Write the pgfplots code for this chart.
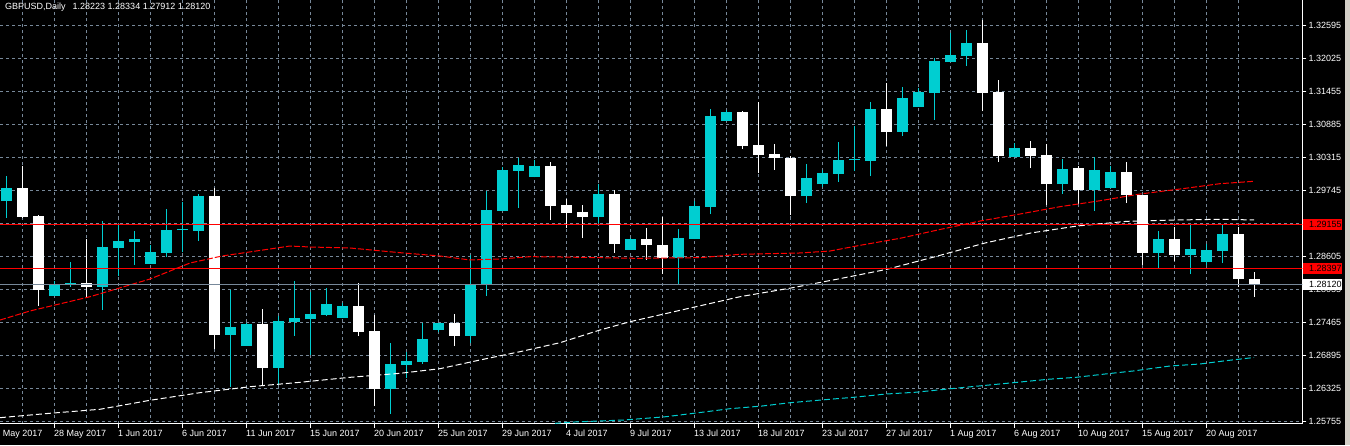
\documentclass[border=0pt]{standalone}
\usepackage{fontspec}
\setmainfont{Liberation Sans}
\usepackage{pgfplots}
\usepackage{pgfplotstable}
\pgfplotsset{compat=1.18}
\definecolor{mtcyan}{RGB}{0,206,209}
\definecolor{mtgrid}{RGB}{119,136,153}
\definecolor{mtstrip}{RGB}{212,208,200}
\newcommand{\mtfont}{\fontsize{9}{10}\selectfont}

% daily candles, bullish (cyan) and bearish (white)
\pgfplotstableread{
i o h l c
0 1.29565 1.29991 1.29272 1.29779
3 1.27922 1.28186 1.27922 1.28124
4 1.28124 1.28508 1.28083 1.28146
6 1.28083 1.29215 1.27681 1.28767
7 1.28750 1.29152 1.28267 1.28871
8 1.28853 1.29043 1.28457 1.28905
9 1.28474 1.28802 1.28474 1.28681
10 1.28664 1.29417 1.28600 1.29060
11 1.29055 1.29538 1.28676 1.29072
12 1.29043 1.29681 1.28871 1.29646
14 1.27250 1.28026 1.26358 1.27388
15 1.27060 1.27462 1.27060 1.27439
17 1.26681 1.27577 1.26388 1.27491
18 1.27469 1.28181 1.27238 1.27543
19 1.27526 1.27986 1.26900 1.27612
20 1.27595 1.28060 1.27583 1.27784
21 1.27548 1.27796 1.27548 1.27750
24 1.26324 1.27112 1.25893 1.26750
25 1.26733 1.26951 1.26503 1.26801
26 1.26784 1.27457 1.26755 1.27181
27 1.27336 1.27457 1.27307 1.27457
29 1.27233 1.28624 1.27117 1.28129
30 1.28129 1.29733 1.27922 1.29405
31 1.29388 1.30152 1.29388 1.30095
32 1.30078 1.30297 1.29440 1.30181
33 1.29974 1.30267 1.29974 1.30164
37 1.29284 1.29853 1.29181 1.29681
39 1.28715 1.28922 1.28715 1.28905
42 1.28577 1.29077 1.28129 1.28922
43 1.28905 1.29560 1.28905 1.29474
44 1.29457 1.31147 1.29336 1.31026
45 1.30940 1.31129 1.30940 1.31095
50 1.29646 1.30198 1.29526 1.29957
51 1.29853 1.30095 1.29802 1.30043
52 1.30026 1.30578 1.29888 1.30267
53 1.30262 1.30853 1.30078 1.30279
54 1.30250 1.31267 1.29991 1.31147
56 1.30750 1.31526 1.30681 1.31336
57 1.31181 1.31509 1.31181 1.31440
58 1.31422 1.32026 1.30957 1.31974
59 1.31957 1.32457 1.31957 1.32078
60 1.32061 1.32509 1.31888 1.32285
63 1.30319 1.30560 1.30319 1.30474
66 1.29853 1.30284 1.29681 1.30112
68 1.29750 1.30319 1.29388 1.30095
69 1.29784 1.30164 1.29784 1.30060
72 1.28664 1.29043 1.28405 1.28905
74 1.28629 1.29146 1.28301 1.28733
75 1.28508 1.28819 1.28457 1.28715
76 1.28698 1.29146 1.28491 1.28991
}\bull

\pgfplotstableread{
i o h l c
1 1.29779 1.30164 1.29272 1.29290
2 1.29302 1.29319 1.27750 1.28026
5 1.28146 1.28900 1.27900 1.28083
13 1.29646 1.29779 1.27008 1.27250
16 1.27439 1.27698 1.26388 1.26681
22 1.27750 1.28146 1.27238 1.27307
23 1.27319 1.27595 1.26025 1.26324
28 1.27457 1.27612 1.27060 1.27233
34 1.30164 1.30233 1.29233 1.29474
35 1.29491 1.29595 1.29095 1.29353
36 1.29371 1.29491 1.28922 1.29284
38 1.29681 1.29750 1.28664 1.28819
40 1.28905 1.29095 1.28543 1.28802
41 1.28802 1.29284 1.28301 1.28577
46 1.31095 1.31112 1.30457 1.30509
47 1.30526 1.31267 1.30043 1.30353
48 1.30371 1.30543 1.30095 1.30302
49 1.30302 1.30336 1.29319 1.29646
55 1.31147 1.31595 1.30509 1.30750
61 1.32285 1.32681 1.31112 1.31422
62 1.31440 1.31647 1.30233 1.30336
64 1.30474 1.30595 1.30129 1.30336
65 1.30353 1.30543 1.29491 1.29853
67 1.30129 1.30164 1.29509 1.29750
70 1.30060 1.30233 1.29526 1.29664
71 1.29664 1.29664 1.28457 1.28664
73 1.28905 1.29112 1.28526 1.28629
77 1.28991 1.29112 1.28077 1.28215
78 1.28223 1.28334 1.27912 1.28120
}\bear

% moving averages
\pgfplotstableread{
x p
-0.375 1.27508
1.5 1.27664
5.25 1.27910
9 1.28215
11.5 1.28491
13.5 1.28612
16.5 1.28733
17.75 1.28784
19 1.28767
21.5 1.28750
24.625 1.28669
27.125 1.28612
29 1.28543
30.875 1.28560
32.75 1.28600
34.625 1.28595
37.125 1.28583
39.375 1.28572
43.375 1.28583
45.875 1.28641
49.625 1.28664
51.5 1.28698
53.375 1.28796
55.875 1.28917
58.375 1.29069
60.875 1.29215
63.375 1.29336
65.875 1.29462
68.375 1.29565
70.875 1.29681
73.375 1.29767
75.875 1.29859
78 1.29900
}\mared

\pgfplotstableread{
x p
-0.375 1.25824
2.75 1.25900
5.875 1.25969
9 1.26124
12.125 1.26255
15.25 1.26358
18.375 1.26434
21.5 1.26520
24.625 1.26589
27.125 1.26669
29.625 1.26819
32.125 1.26962
34.625 1.27117
37.125 1.27336
39 1.27479
45.875 1.27910
49.0625 1.28060
52 1.28215
55.0625 1.28383
58 1.28595
61.1875 1.28836
64.0625 1.29009
66.9375 1.29129
70.0625 1.29210
73.0625 1.29233
76 1.29245
78 1.29233
}\mawhite

\pgfplotstableread{
x p
34.3125 1.25727
35.5625 1.25750
38.625 1.25784
41.25 1.25841
43.375 1.25913
45.25 1.25979
47.25 1.26025
49 1.26082
50.75 1.26124
52.9375 1.26175
55 1.26232
56.8125 1.26262
59.5 1.26336
62.5625 1.26417
65.125 1.26486
66.875 1.26520
68.6875 1.26577
70.4375 1.26629
72.75 1.26715
74.625 1.26750
76.25 1.26807
77.5625 1.26848
78 1.26862
}\macyan

\begin{document}
\begin{tikzpicture}
\fill[black] (0pt,-21.5pt) rectangle (1350pt,423.5pt);
\fill[mtstrip] (1345pt,-21.5pt) rectangle (1350pt,423.5pt);
\begin{axis}[
    at={(0pt,0pt)}, anchor=south west,
    width=1302.3pt, height=423.5pt, scale only axis,
    xmin=-0.375, xmax=81.02,
    ymin=1.257237, ymax=1.330261,
    axis x line*=bottom, axis y line*=right,
    axis line style={white, line width=1pt},
    xtick={3,7,...,75},
    xticklabels={28 May 2017, 1 Jun 2017, 6 Jun 2017, 11 Jun 2017, 15 Jun 2017,
        20 Jun 2017, 25 Jun 2017, 29 Jun 2017, 4 Jul 2017, 9 Jul 2017,
        13 Jul 2017, 18 Jul 2017, 23 Jul 2017, 27 Jul 2017, 1 Aug 2017,
        6 Aug 2017, 10 Aug 2017, 15 Aug 2017, 20 Aug 2017},
    minor xtick={1,5,...,79},
    ytick={1.25755,1.26325,1.26895,1.27465,1.28035,1.28605,1.29175,
        1.29745,1.30315,1.30885,1.31455,1.32025,1.32595},
    yticklabels={1.25755,1.26325,1.26895,1.27465,1.28035,1.28605,1.29175,
        1.29745,1.30315,1.30885,1.31455,1.32025,1.32595},
    grid=both,
    grid style={draw=mtgrid, line width=1pt, dash pattern=on 3pt off 3pt},
    minor grid style={draw=mtgrid, line width=1pt, dash pattern=on 3pt off 3pt},
    tick style={white, line width=1pt},
    tick align=outside, major tick length=4pt, minor tick length=0pt,
    ticklabel style={font=\mtfont, text=white},
    xticklabel style={anchor=north west, inner sep=0pt, yshift=-2.5pt},
    yticklabel style={anchor=west, inner sep=0pt, xshift=2pt},
    /pgf/number format/assume math mode=true,
]
% wicks and bodies
\addplot[draw=none, mark=none, error bars/.cd, y dir=plus, y explicit, error mark=none,
    error bar style={draw=mtcyan, line width=1pt}]
    table[x=i, y=l, y error plus expr=\thisrow{h}-\thisrow{l}] {\bull};
\addplot[draw=none, mark=none, error bars/.cd, y dir=plus, y explicit, error mark=none,
    error bar style={draw=mtcyan, line width=11pt}]
    table[x=i, y=o, y error plus expr=\thisrow{c}-\thisrow{o}] {\bull};
\addplot[draw=none, mark=none, error bars/.cd, y dir=plus, y explicit, error mark=none,
    error bar style={draw=white, line width=1pt}]
    table[x=i, y=l, y error plus expr=\thisrow{h}-\thisrow{l}] {\bear};
\addplot[draw=none, mark=none, error bars/.cd, y dir=plus, y explicit, error mark=none,
    error bar style={draw=white, line width=11pt}]
    table[x=i, y=c, y error plus expr=\thisrow{o}-\thisrow{c}] {\bear};

% moving averages
\addplot[red, line width=1pt, dash pattern=on 6pt off 2pt] table[x=x, y=p] {\mared};
\addplot[white, line width=1pt, dash pattern=on 6pt off 3pt] table[x=x, y=p] {\mawhite};
\addplot[mtcyan, line width=1pt, dash pattern=on 6pt off 3pt] table[x=x, y=p] {\macyan};

% horizontal levels and bid line
\addplot[red, line width=1pt] coordinates {(-1,1.29155) (82,1.29155)};
\addplot[red, line width=1pt] coordinates {(-1,1.28397) (82,1.28397)};
\addplot[mtgrid, line width=1pt] coordinates {(-1,1.28120) (82,1.28120)};

\coordinate (bA) at (axis cs:81.02,1.29155);
\coordinate (bB) at (axis cs:81.02,1.28397);
\coordinate (bC) at (axis cs:81.02,1.28120);
\end{axis}

\fill[red] ([xshift=1pt,yshift=-5.2pt]bA) rectangle ([xshift=40pt,yshift=5.2pt]bA);
\node[anchor=west, inner sep=0pt, font=\mtfont, text=black] at ([xshift=6.5pt]bA) {1.29155};
\fill[red] ([xshift=1pt,yshift=-5.2pt]bB) rectangle ([xshift=40pt,yshift=5.2pt]bB);
\node[anchor=west, inner sep=0pt, font=\mtfont, text=black] at ([xshift=6.5pt]bB) {1.28397};
\fill[white] ([xshift=1pt,yshift=-5.2pt]bC) rectangle ([xshift=40pt,yshift=5.2pt]bC);
\node[anchor=west, inner sep=0pt, font=\mtfont, text=black] at ([xshift=6.5pt]bC) {1.28120};

\node[anchor=base west, inner sep=0pt, font=\mtfont, text=white] at (5pt,413.8pt)
    {GBPUSD,Daily\hspace{7pt}1.28223 1.28334 1.27912 1.28120};
\node[anchor=base west, inner sep=0pt, font=\mtfont, text=white] at (2.7pt,-13.2pt) {May 2017};

\pgfresetboundingbox
\path (0pt,-21.5pt) rectangle (1350pt,423.5pt);
\end{tikzpicture}
\end{document}
